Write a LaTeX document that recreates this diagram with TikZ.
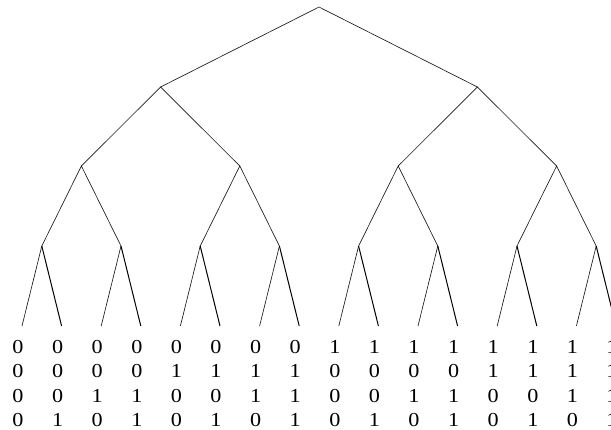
\documentclass[tikz,border=0pt]{standalone}
\usepackage{fontspec}
\setmainfont{Liberation Serif}[FakeStretch=1.12]
\begin{document}
\begin{tikzpicture}[x=1pt,y=-1pt,
  edge/.style={draw=black!90,line width=0.65pt},
  redge/.style={draw=black,line width=1pt},
  bits/.style={align=center,inner sep=0pt,font=\fontsize{19.8}{24.3}\selectfont}]
\useasboundingbox (0,0) rectangle (611,430);
\clip (0,0) rectangle (611,430);
\coordinate (r) at (319,7);
\foreach \m in {0,1} {\coordinate (b\m) at ({160.6+316.8*\m},87);}
\foreach \k in {0,...,3} {\coordinate (a\k) at ({81.4+158.4*\k},166);}
\foreach \j in {0,...,7} {\coordinate (c\j) at ({41.8+79.2*\j},246);}
\foreach \i in {0,...,15} {\coordinate (l\i) at ({22+39.6*\i},326);}
\draw[edge] (b0) -- (r) -- (b1);
\foreach \m in {0,1} {
  \pgfmathtruncatemacro\p{2*\m}\pgfmathtruncatemacro\q{2*\m+1}
  \draw[edge] (a\p) -- (b\m) -- (a\q);}
\foreach \k in {0,...,3} {
  \pgfmathtruncatemacro\p{2*\k}\pgfmathtruncatemacro\q{2*\k+1}
  \draw[edge] (c\p) -- (a\k) -- (c\q);}
\foreach \j in {0,...,7} {
  \pgfmathtruncatemacro\p{2*\j}\pgfmathtruncatemacro\q{2*\j+1}
  \draw[edge] (c\j) -- (l\p);
  \draw[redge] (c\j) -- (l\q);}
\foreach \i in {0,...,15} {
  \pgfmathtruncatemacro\ba{int(\i/8)}
  \pgfmathtruncatemacro\bb{mod(int(\i/4),2)}
  \pgfmathtruncatemacro\bc{mod(int(\i/2),2)}
  \pgfmathtruncatemacro\bd{mod(\i,2)}
  \node[bits] (d\i) at ({18+39.6*\i},383.5) {\ba\\\bb\\\bc\\\bd};}
\end{tikzpicture}
\end{document}
